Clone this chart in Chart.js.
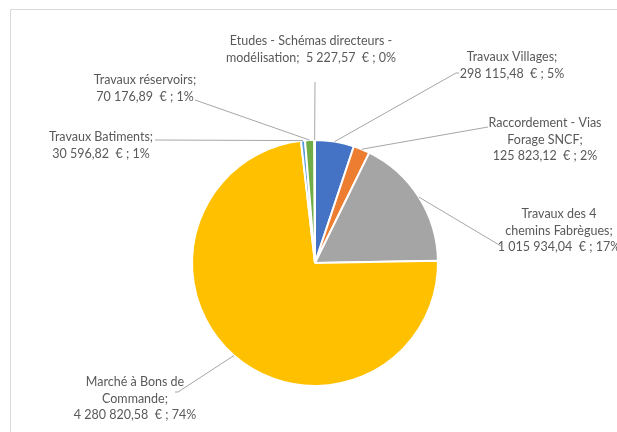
<!DOCTYPE html>
<html lang="fr">
<head>
<meta charset="utf-8">
<title>Répartition des dépenses</title>
<script src="https://cdn.jsdelivr.net/npm/chart.js@4.4.1/dist/chart.umd.min.js"></script>
<style>
  html, body { margin: 0; padding: 0; background: #fff; }
  #wrap { position: relative; width: 617px; height: 432px; }
</style>
</head>
<body>
<div id="wrap"><canvas id="depensesChart"></canvas></div>
<script>
// Postes de dépenses, dans l'ordre du tracé (sens horaire depuis midi)
const postes = [
    'Travaux Villages',
    'Raccordement - Vias Forage SNCF',
    'Travaux des 4 chemins Fabrègues',
    'Marché à Bons de Commande',
    'Travaux Batiments',
    'Travaux réservoirs',
    'Etudes - Schémas directeurs - modélisation'
];

// Montants en euros
const montants = [298115.48, 125823.12, 1015934.04, 4280820.58, 30596.82, 70176.89, 5227.57];

// Couleurs des parts
const couleurs = ['#4472C4', '#ED7D31', '#A5A5A5', '#FFC000', '#5B9BD5', '#70AD47', '#264478'];

// Placement des étiquettes : centre x, milieu de la 1re ligne, largeur de coupure,
// et points du trait de rappel (depuis le bord de la part)
const etiquettes = [
    { x: 512, y: 57,  w: 110, trait: [[456, 73], [459, 73]] },
    { x: 545, y: 123, w: 118, trait: [[488, 127]] },
    { x: 559, y: 214, w: 112, trait: [[501, 246]] },
    { x: 135, y: 382, w: 120, trait: [[178, 392], [175, 392]] },
    { x: 101, y: 137, w: 110, trait: [[155, 140]] },
    { x: 145, y: 80,  w: 110, trait: [[195, 100]] },
    { x: 311, y: 41,  w: 185, trait: [[315, 82]] }
];

const POLICE = '12.5px Lato';
const INTERLIGNE = 16.6;

// Pourcentages arrondis dont la somme fait 100 (plus forts restes)
function pourcentages(valeurs) {
    const total = valeurs.reduce((a, b) => a + b, 0);
    const bruts = valeurs.map(v => v / total * 100);
    const res = bruts.map(Math.floor);
    let reste = 100 - res.reduce((a, b) => a + b, 0);
    const ordre = bruts.map((b, i) => i).sort((a, b) => (bruts[b] - res[b]) - (bruts[a] - res[a]));
    for (let k = 0; k < reste; k++) res[ordre[k]] += 1;
    return res;
}

// 4280820.58 -> "4 280 820,58" (espaces insécables)
function formatMontant(v) {
    const [ent, dec] = v.toFixed(2).split('.');
    return ent.replace(/\B(?=(\d{3})+(?!\d))/g, '\u00a0') + ',' + dec;
}

// Découpe le texte en lignes selon la largeur disponible
function decouper(ctx, jetons, largeur) {
    const lignes = [];
    let ligne = '';
    jetons.forEach(j => {
        const essai = ligne ? ligne + j.sep + j.txt : j.txt;
        if (ligne && ctx.measureText(essai).width > largeur) {
            lignes.push(ligne);
            ligne = j.txt;
        } else {
            ligne = essai;
        }
    });
    if (ligne) lignes.push(ligne);
    return lignes;
}

const pcts = pourcentages(montants);

const etiquettesPlugin = {
    id: 'etiquettes',
    beforeDraw(chart) {
        // Cadre de la zone de graphique
        const ctx = chart.ctx;
        ctx.save();
        ctx.strokeStyle = '#D9D9D9';
        ctx.lineWidth = 1;
        ctx.beginPath();
        ctx.moveTo(10.5, chart.height);
        ctx.lineTo(10.5, 9.5);
        ctx.lineTo(chart.width, 9.5);
        ctx.stroke();
        ctx.restore();
    },
    afterDatasetsDraw(chart) {
        const ctx = chart.ctx;
        const arcs = chart.getDatasetMeta(0).data;
        ctx.save();
        ctx.font = POLICE;
        arcs.forEach((arc, i) => {
            const { x, y, startAngle, endAngle, outerRadius } =
                arc.getProps(['x', 'y', 'startAngle', 'endAngle', 'outerRadius'], true);
            const milieu = (startAngle + endAngle) / 2;
            const px = x + Math.cos(milieu) * outerRadius;
            const py = y + Math.sin(milieu) * outerRadius;
            const e = etiquettes[i];

            // Trait de rappel
            ctx.strokeStyle = '#A6A6A6';
            ctx.lineWidth = 1;
            ctx.beginPath();
            ctx.moveTo(px, py);
            e.trait.forEach(p => ctx.lineTo(p[0], p[1]));
            ctx.stroke();

            // Texte : nom; montant € ; pourcentage
            const mots = (postes[i] + ';').split(' ').map(t => ({ txt: t, sep: ' ' }));
            mots.push({
                txt: formatMontant(montants[i]) + '\u00a0\u00a0€\u00a0;\u00a0' + pcts[i] + '%',
                sep: '  '
            });
            const lignes = decouper(ctx, mots, e.w);
            ctx.fillStyle = '#595959';
            ctx.textAlign = 'center';
            ctx.textBaseline = 'middle';
            lignes.forEach((l, k) => ctx.fillText(l, e.x, e.y + k * INTERLIGNE));
        });
        ctx.restore();
    }
};

new Chart(document.getElementById('depensesChart'), {
    type: 'pie',
    data: {
        labels: postes,
        datasets: [{
            data: montants,
            backgroundColor: couleurs,
            borderColor: '#FFFFFF',
            borderWidth: 2
        }]
    },
    options: {
        responsive: true,
        maintainAspectRatio: false,
        animation: false,
        layout: {
            padding: { left: 191, right: 178, top: 139, bottom: 45 }
        },
        plugins: {
            legend: { display: false },
            tooltip: { enabled: false }
        }
    },
    plugins: [etiquettesPlugin]
});
</script>
</body>
</html>
